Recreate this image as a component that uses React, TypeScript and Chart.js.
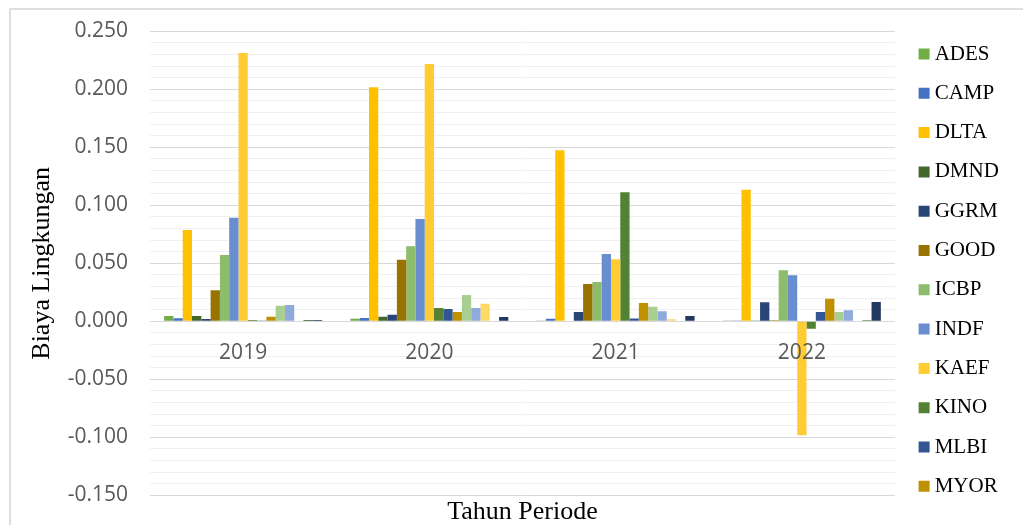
import { useEffect, useRef } from "react";
import { Chart, registerables } from "chart.js";

Chart.register(...registerables);

// Categories
const years = ["2019", "2020", "2021", "2022"];

// Series values (Biaya Lingkungan) per company, 2019..2022
const ADES = [0.0046, 0.0022, 0.0003, 0.0003];
const CAMP = [0.0026, 0.0028, 0.0022, 0.0003];
const DLTA = [0.0787, 0.2018, 0.1474, 0.1134];
const DMND = [0.0046, 0.004, 0.0, 0.0003];
const GGRM = [0.002, 0.0057, 0.008, 0.0164];
const GOOD = [0.0267, 0.0531, 0.0322, 0.001];
const ICBP = [0.0572, 0.0647, 0.0339, 0.044];
const INDF = [0.0893, 0.0882, 0.058, 0.0397];
const KAEF = [0.2313, 0.2218, 0.0534, -0.0983];
const KINO = [0.0012, 0.0115, 0.1112, -0.0064];
const MLBI = [0.0003, 0.0106, 0.0025, 0.008];
const MYOR = [0.004, 0.008, 0.0158, 0.0195];
const ROTI = [0.0134, 0.0227, 0.0126, 0.008];
const SKBM = [0.014, 0.0115, 0.0086, 0.0095];
const SKLT = [0.0, 0.0152, 0.0017, 0.0005];
const STTP = [0.0011, 0.0, 0.0, 0.001];
const ULTJ = [0.0011, 0.0037, 0.0046, 0.0166];

const companies = [
  "ADES", "CAMP", "DLTA", "DMND", "GGRM", "GOOD", "ICBP", "INDF", "KAEF",
  "KINO", "MLBI", "MYOR", "ROTI", "SKBM", "SKLT", "STTP", "ULTJ",
];
const seriesValues = [
  ADES, CAMP, DLTA, DMND, GGRM, GOOD, ICBP, INDF, KAEF,
  KINO, MLBI, MYOR, ROTI, SKBM, SKLT, STTP, ULTJ,
];
const colors = [
  "#70AD47", "#4472C4", "#FFC000",
  "#43682B", "#294476", "#997300",
  "#8DBD6C", "#698ED0", "#FFCD33",
  "#548235", "#335593", "#BF9000",
  "#A9CE91", "#8FAADC", "#FFD966",
  "#385724", "#223962",
];

// Y axis range / ticks
const yMin = -0.15;
const yMax = 0.25;
const yStep = 0.01;

const yTitle = "Biaya Lingkungan";
const xTitle = "Tahun Periode";

const isMajor = (v: number) => Math.round(v * 100) % 5 === 0;

export default function App() {
  const ref = useRef<HTMLCanvasElement | null>(null);

  useEffect(() => {
    if (!ref.current) return;
    const chart = new Chart(ref.current, {
      type: "bar",
      data: {
        labels: years,
        datasets: companies.map((name, i) => ({
          label: name,
          data: seriesValues[i],
          backgroundColor: colors[i],
          borderWidth: 0,
          categoryPercentage: 0.848,
          barPercentage: 1,
        })),
      },
      options: {
        animation: false,
        responsive: false,
        maintainAspectRatio: false,
        layout: { padding: { top: 23.2, left: 0, right: 17.3, bottom: 0 } },
        plugins: {
          tooltip: { enabled: false },
          title: {
            display: true,
            position: "bottom",
            fullSize: false,
            text: xTitle,
            color: "#000",
            font: { family: "'Liberation Serif', 'Times New Roman', serif", size: 26, weight: "normal" },
            padding: { top: 1.3, bottom: 0.2 },
          },
          legend: {
            position: "right",
            align: "start",
            maxWidth: 100,
            labels: {
              color: "#000",
              font: { family: "'Liberation Serif', 'Times New Roman', serif", size: 21 },
              boxWidth: 0.2,
              boxHeight: 0.2,
              padding: 18.3,
              filter: (item: any) => item.datasetIndex < 12,
              generateLabels: (c: any) =>
                c.data.datasets.map((ds: any, i: number) => ({
                  text: ds.label,
                  fillStyle: ds.backgroundColor,
                  strokeStyle: ds.backgroundColor,
                  lineWidth: 10.8,
                  lineJoin: "miter",
                  hidden: false,
                  datasetIndex: i,
                })),
            },
          },
        },
        scales: {
          x: {
            type: "category",
            position: { y: 0 } as any,
            grid: { display: false, drawTicks: false },
            border: { display: false },
            ticks: {
              z: 1,
              color: "#595959",
              font: { family: "'Open Sans', sans-serif", size: 21 },
              padding: 19,
              maxRotation: 0,
              autoSkip: false,
            },
          },
          xTop: {
            type: "linear",
            axis: "x",
            position: "top",
            display: true,
            grid: { display: false, drawTicks: false },
            border: { display: false },
            ticks: { display: false },
            afterFit: (s: any) => {
              s.height = 6.1;
            },
          },
          y: {
            type: "linear",
            min: yMin,
            max: yMax,
            grid: {
              drawTicks: true,
              tickLength: 22,
              tickColor: "rgba(0,0,0,0)",
              color: (ctx: any) => (ctx.tick && isMajor(ctx.tick.value) ? "#d9d9d9" : "#f0f0f0"),
              lineWidth: 1,
            },
            border: { display: false },
            ticks: {
              stepSize: yStep,
              maxTicksLimit: 1000,
              autoSkip: false,
              padding: 0,
              color: "#595959",
              font: { family: "'Open Sans', sans-serif", size: 21 },
              callback: (v: any) => {
                const n = Number(v);
                if (!isMajor(n)) return "";
                let r = Math.round(n * 1000) / 1000;
                if (Math.abs(r) < 1e-9) r = 0;
                return r.toFixed(3);
              },
            },
            title: {
              display: true,
              text: yTitle,
              color: "#000",
              font: { family: "'Liberation Serif', 'Times New Roman', serif", size: 26 },
              padding: { top: 26.3, bottom: 0 },
            },
            afterFit: (s: any) => {
              s.width = 150;
            },
          },
          yRight: {
            type: "linear",
            axis: "y",
            position: "right",
            display: true,
            grid: { display: false, drawTicks: false },
            border: { display: false },
            ticks: { display: false },
            afterFit: (s: any) => {
              s.width = 10.7;
            },
          },
        },
      } as any,
    });
    return () => chart.destroy();
  }, []);

  return (
    <div
      style={{
        position: "fixed",
        left: 0,
        top: 0,
        width: 1023,
        height: 525,
        overflow: "hidden",
        background: "#fff",
      }}
    >
      <canvas
        ref={ref}
        width={1023}
        height={526}
        style={{ display: "block", position: "absolute", left: 0, top: 2, width: 1023, height: 526 }}
      />
      <div
        style={{
          position: "absolute",
          left: 9,
          top: 8,
          width: 1030,
          height: 600,
          borderLeft: "2px solid #dedede",
          borderTop: "2px solid #dedede",
          pointerEvents: "none",
        }}
      />
    </div>
  );
}
